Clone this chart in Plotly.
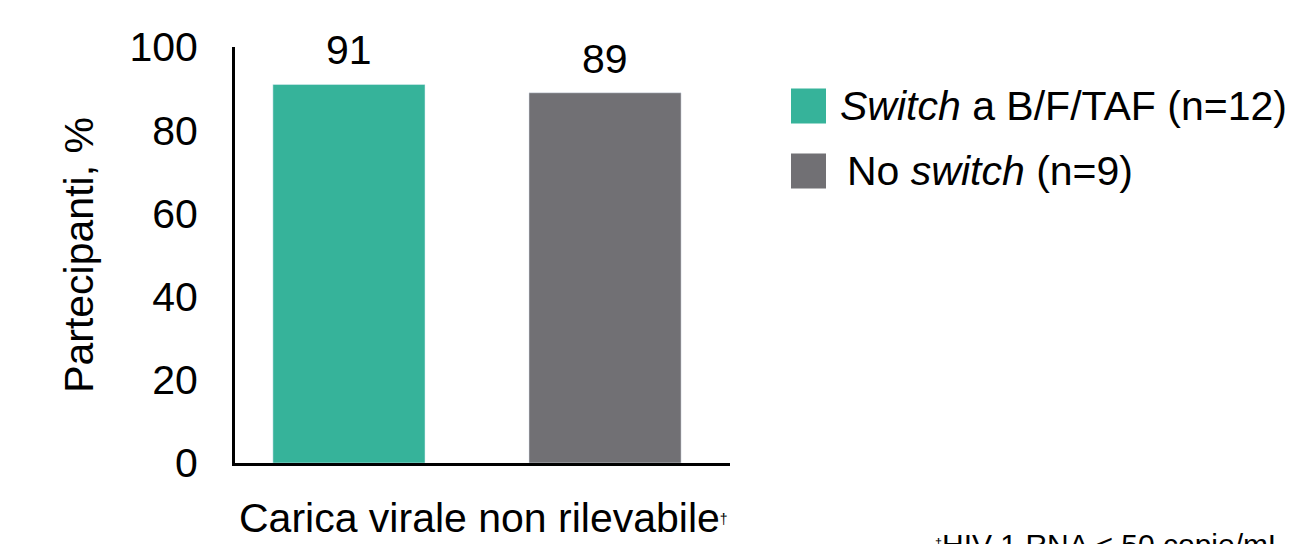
import plotly.graph_objects as go

categories = ["Switch", "No switch"]
series_names = ["<i>Switch</i> a B/F/TAF (n=12)", "No <i>switch</i> (n=9)"]
series_values = [91, 89]
series_colors = ["#36B39A", "#717074"]
y_ticks = [0, 20, 40, 60, 80, 100]
x_label = "Carica virale non rilevabile<span style='font-size:20px'><sup>†</sup></span>"
y_label = "Partecipanti, %"
footnote = "<span style='font-size:18px'><sup>†</sup></span>HIV-1 RNA < 50 copie/mL"

FONT = "Liberation Sans, Arial, sans-serif"
FS = 41

fig = go.Figure()
for cat, name, val, col in zip(categories, series_names, series_values, series_colors):
    fig.add_trace(go.Bar(
        x=[cat], y=[val], name=name, marker_color=col, width=0.594,
        showlegend=False,
    ))
    fig.add_annotation(x=cat, y=val, xref="x", yref="y", text=str(val),
                       showarrow=False, yanchor="bottom", yshift=9,
                       font=dict(size=FS, color="black", family=FONT))

# custom legend (large swatches)
leg_y = [106, 171]
leg_x = [838, 845]
for i, (name, col) in enumerate(zip(series_names, series_colors)):
    fig.add_shape(type="rect", xref="paper", yref="paper",
                  x0=(791 - 235) / 495, x1=(826 - 235) / 495,
                  y0=(463 - (leg_y[i] + 17.5)) / 416, y1=(463 - (leg_y[i] - 17.5)) / 416,
                  fillcolor=col, line_width=0)
    fig.add_annotation(xref="paper", yref="paper",
                       x=(leg_x[i] - 235) / 495,
                       y=(463 - leg_y[i]) / 416, xanchor="left", yanchor="middle",
                       text=name, showarrow=False,
                       font=dict(size=FS, color="black", family=FONT))

fig.add_annotation(xref="paper", yref="paper", x=(483 - 235) / 495, y=-(518 - 463) / 416,
                   xanchor="center", yanchor="middle", text=x_label, showarrow=False,
                   font=dict(size=FS, color="black", family=FONT))
fig.add_annotation(xref="paper", yref="paper", x=(933 - 235) / 495, y=-(526 - 463) / 416,
                   xanchor="left", yanchor="top", text=footnote, showarrow=False,
                   font=dict(size=30, color="black", family=FONT))

fig.update_layout(
    width=1302, height=544,
    margin=dict(l=235, r=572, t=47, b=81),
    plot_bgcolor="white", paper_bgcolor="white",
    font=dict(family=FONT, color="black"),
    xaxis=dict(range=[-0.445, 1.488], showticklabels=False, showline=True,
               linecolor="black", linewidth=3, ticks="", showgrid=False, zeroline=False),
    yaxis=dict(range=[0, 100], tickvals=y_ticks, showline=True, linecolor="black",
               linewidth=3, ticks="", showgrid=False, zeroline=False,
               tickfont=dict(size=FS, family=FONT, color="black"),
               ticklabelstandoff=26,
               title=dict(text=y_label, font=dict(size=FS, family=FONT, color="black"), standoff=24)),
)

fig.write_html("out.html")
